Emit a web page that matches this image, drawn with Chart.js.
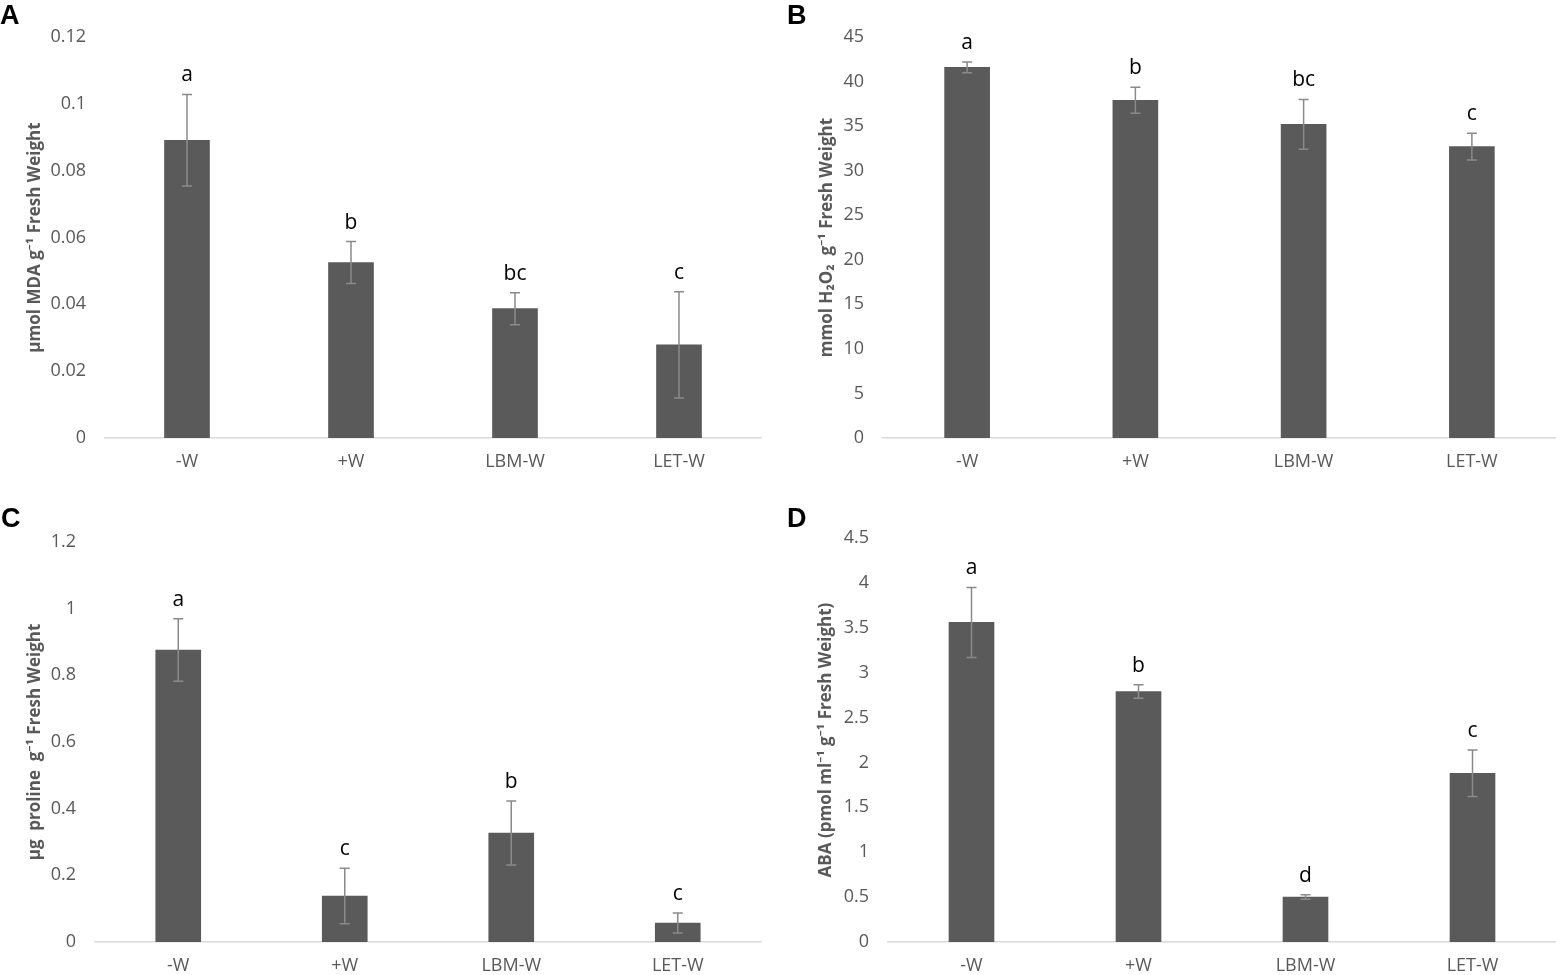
<!DOCTYPE html>
<html>
<head>
<meta charset="utf-8">
<script src="https://cdn.jsdelivr.net/npm/chart.js@4.4.0/dist/chart.umd.min.js"></script>
<style>
  body { margin: 0; background: #fff; width: 1556px; height: 975px; position: relative; overflow: hidden; }
  .panel { position: absolute; }
  .tag { position: absolute; font: bold 27px "Liberation Sans", Arial, sans-serif; color: #000; line-height: 1; }
</style>
</head>
<body>
<div class="panel" style="left:0;top:0"><canvas id="chartA" width="780" height="490"></canvas></div>
<div class="panel" style="left:780px;top:0"><canvas id="chartB" width="776" height="490"></canvas></div>
<div class="panel" style="left:0;top:490px"><canvas id="chartC" width="780" height="485"></canvas></div>
<div class="panel" style="left:780px;top:490px"><canvas id="chartD" width="776" height="485"></canvas></div>
<div class="tag" style="left:0;top:2px">A</div>
<div class="tag" style="left:787px;top:2px">B</div>
<div class="tag" style="left:1px;top:505px">C</div>
<div class="tag" style="left:787px;top:505px">D</div>
<script>
// treatments
const categories = ['-W', '+W', 'LBM-W', 'LET-W'];

// A - MDA
const mdaMean = [0.0891, 0.0525, 0.0387, 0.0279];
const mdaErr = [0.0137, 0.0063, 0.0048, 0.0159];
const mdaLetters = ['a', 'b', 'bc', 'c'];

// B - H2O2
const h2o2Mean = [41.6, 37.9, 35.2, 32.7];
const h2o2Err = [0.6, 1.45, 2.8, 1.5];
const h2o2Letters = ['a', 'b', 'bc', 'c'];

// C - proline
const prolineMean = [0.876, 0.138, 0.327, 0.057];
const prolineErr = [0.094, 0.083, 0.096, 0.030];
const prolineLetters = ['a', 'c', 'b', 'c'];

// D - ABA
const abaMean = [3.56, 2.79, 0.50, 1.88];
const abaErr = [0.39, 0.075, 0.025, 0.26];
const abaLetters = ['a', 'b', 'd', 'c'];

const FONT = '"Open Sans", "Noto Sans", sans-serif';

function makePanel(id, means, errs, letters, yMax, yStep, yTitle, box){
	// error bars + letras de significância
	const errPlugin = {
		id: 'errBars',
		afterDatasetsDraw(chart){
			const ctx = chart.ctx;
			const y = chart.scales.y;
			const bars = chart.getDatasetMeta(0).data;
			ctx.save();
			ctx.strokeStyle = '#8a8a8a';
			ctx.lineWidth = 1.5;
			bars.forEach((bar, i) => {
				let yTop = y.getPixelForValue(means[i] + errs[i]);
				let yBot = y.getPixelForValue(means[i] - errs[i]);
				ctx.beginPath();
				ctx.moveTo(bar.x, yTop); ctx.lineTo(bar.x, yBot);
				ctx.moveTo(bar.x - 5, yTop); ctx.lineTo(bar.x + 5, yTop);
				ctx.moveTo(bar.x - 5, yBot); ctx.lineTo(bar.x + 5, yBot);
				ctx.stroke();
				ctx.fillStyle = '#000';
				ctx.font = '21px ' + FONT;
				ctx.textAlign = 'center';
				ctx.textBaseline = 'alphabetic';
				ctx.fillText(letters[i], bar.x, yTop - 13);
			});
			ctx.restore();
		}
	};

	return new Chart(document.getElementById(id), {
		type: 'bar',
		data: {
			labels: categories,
			datasets: [{ data: means, backgroundColor: '#5a5a5a', barThickness: 45 }]
		},
		options: {
			responsive: false,
			animation: false,
			layout: { autoPadding: false, padding: { top: box.top, right: box.right, bottom: box.bottom, left: 0 } },
			plugins: { legend: { display: false }, tooltip: { enabled: false } },
			scales: {
				x: {
					grid: { display: false, drawTicks: false },
					border: { display: true, color: '#d9d9d9', width: 1.5 },
					ticks: { color: '#595959', font: { family: FONT, size: 18 }, padding: 13 },
					afterFit(s){ s.height = box.xh; }
				},
				y: {
					min: 0, max: yMax,
					grid: { display: false, drawTicks: false },
					border: { display: false },
					ticks: {
						stepSize: yStep, color: '#595959', font: { family: FONT, size: 18 }, padding: 19,
						callback: (v) => String(Math.round(v * 1e6) / 1e6)
					},
					title: {
						display: true, text: yTitle, color: '#595959',
						font: { family: FONT, size: 17, weight: 'bold' },
						padding: { top: box.tp, bottom: 0 }
					},
					afterFit(s){ s.width = box.left; }
				}
			}
		},
		plugins: [errPlugin]
	});
}

makePanel('chartA', mdaMean, mdaErr, mdaLetters, 0.12, 0.02, 'µmol MDA g⁻¹ Fresh Weight',
	{ left: 105, right: 19, top: 37, bottom: 12, xh: 40, tp: 25 });
makePanel('chartB', h2o2Mean, h2o2Err, h2o2Letters, 45, 5, 'mmol H₂O₂  g⁻¹ Fresh Weight',
	{ left: 103, right: 0, top: 37, bottom: 12, xh: 40, tp: 37 });
makePanel('chartC', prolineMean, prolineErr, prolineLetters, 1.2, 0.2, 'µg  proline  g⁻¹ Fresh Weight',
	{ left: 95, right: 19, top: 52, bottom: 0, xh: 33, tp: 25 });
makePanel('chartD', abaMean, abaErr, abaLetters, 4.5, 0.5, 'ABA (pmol ml⁻¹ g⁻¹ Fresh Weight)',
	{ left: 108, right: 0, top: 48, bottom: 0, xh: 33, tp: 36 });
</script>
</body>
</html>
